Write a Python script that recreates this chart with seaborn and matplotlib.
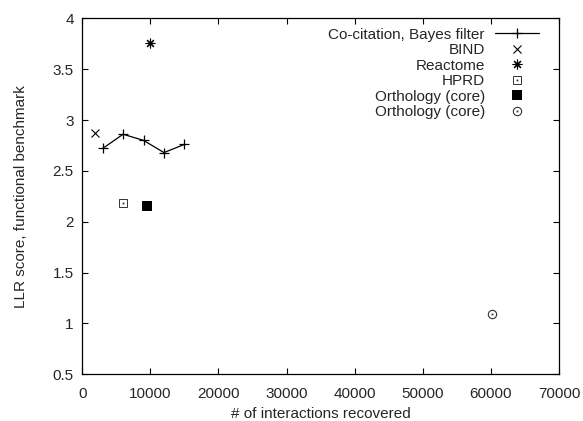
import matplotlib
matplotlib.use('Agg')
import matplotlib.pyplot as plt
import matplotlib.ticker as mticker
import numpy as np
import pandas as pd
import seaborn as sns

# data
cocit_x = [3000, 6000, 9000, 12000, 15000]
cocit_y = [2.72, 2.86, 2.80, 2.68, 2.76]
bind_x, bind_y = [1900], [2.87]
reactome_x, reactome_y = [10000], [3.76]
hprd_x, hprd_y = [6000], [2.18]
orth_x, orth_y = [9500], [2.15]
orth2_x, orth2_y = [60200], [1.09]
labels = ['Co-citation, Bayes filter', 'BIND', 'Reactome', 'HPRD',
          'Orthology (core)', 'Orthology (core)']

sns.set_style('ticks')
plt.rcParams['font.family'] = ['Liberation Sans', 'DejaVu Sans']
plt.rcParams['font.size'] = 11

f, ax = plt.subplots(figsize=(5.83, 4.21), dpi=100)
plt.subplots_adjust(left=0.141, right=0.959, top=0.9565, bottom=0.111)

cocit = pd.DataFrame({'x': cocit_x, 'y': cocit_y})
sns.lineplot(x='x', y='y', data=cocit, ax=ax, color='black', linewidth=0.9,
             marker='+', markersize=7, markeredgewidth=0.9, markeredgecolor='black')
h_line = ax.get_lines()[0]

h_bind = ax.plot(bind_x, bind_y, ls='none', marker='x', ms=5.5, mew=0.8, color='black')[0]
h_reac = ax.plot(reactome_x, reactome_y, ls='none', marker=(8, 2, 0), ms=7, mew=0.8, color='black')[0]
h_hprd = ax.plot(hprd_x, hprd_y, ls='none', marker='s', ms=6, mew=0.7, mfc='none', mec='#333333')[0]
h_hprd_dot = ax.plot(hprd_x, hprd_y, ls='none', marker='s', ms=1.3, mew=0, color='#333333')[0]
h_orth = ax.plot(orth_x, orth_y, ls='none', marker='s', ms=6.5, mew=0, color='black')[0]
h_orth2 = ax.plot(orth2_x, orth2_y, ls='none', marker='o', ms=6, mew=0.8, mfc='none', mec='#333333')[0]
h_orth2_dot = ax.plot(orth2_x, orth2_y, ls='none', marker='s', ms=1.3, mew=0, color='#333333')[0]

ax.set_xlim(0, 70000)
ax.set_ylim(0.5, 4)
ax.xaxis.set_major_locator(mticker.MultipleLocator(10000))
ax.yaxis.set_major_locator(mticker.MultipleLocator(0.5))
ax.xaxis.set_major_formatter(mticker.FormatStrFormatter('%g'))
ax.yaxis.set_major_formatter(mticker.FormatStrFormatter('%g'))
ax.tick_params(direction='in', length=4.5, width=0.8, top=True, right=True,
               labelsize=11, pad=6, color='black')
ax.tick_params(axis='x', pad=9)
for s in ax.spines.values():
    s.set_visible(True)
    s.set_linewidth(0.9)
    s.set_color('black')

ax.set_xlabel('# of interactions recovered', fontsize=11, labelpad=4.5)
ax.set_ylabel('LLR score, functional benchmark', fontsize=11, labelpad=18)

leg = ax.legend([h_line, h_bind, h_reac, (h_hprd, h_hprd_dot), h_orth, (h_orth2, h_orth2_dot)],
                labels, loc='upper right', bbox_to_anchor=(0.958, 0.974),
                frameon=False, markerfirst=False, numpoints=1, borderpad=0,
                borderaxespad=0, handlelength=2.9, handletextpad=0.65,
                labelspacing=0.1, fontsize=11)

f.savefig('out.png', format='png', dpi=100)
